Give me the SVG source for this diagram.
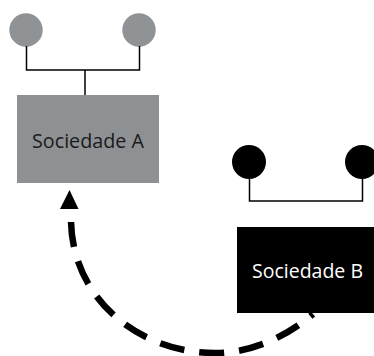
<svg xmlns="http://www.w3.org/2000/svg" width="374" height="356" viewBox="0 0 374 356">
  <style>
    .link { fill: none; stroke: #000; stroke-width: 1.5; }
    .label { font-family: "Open Sans", "Noto Sans", "Liberation Sans", sans-serif; font-size: 20px; text-anchor: middle; }
  </style>
  <rect width="374" height="356" fill="#ffffff"/>

  <!-- owners of Sociedade A -->
  <g id="owner-a1"><circle cx="26" cy="30" r="16.7" fill="#909396"/></g>
  <g id="owner-a2"><circle cx="139" cy="30" r="16.7" fill="#909396"/></g>

  <!-- owners of Sociedade B -->
  <g id="owner-b1"><circle cx="249" cy="162" r="17" fill="#000"/></g>
  <g id="owner-b2"><circle cx="362" cy="162" r="17" fill="#000"/></g>

  <!-- connectors -->
  <g id="connectors">
    <path class="link" d="M26.5,46 V70 H139.5 V46 M85,70 V95"/>
    <path class="link" d="M249.5,178 V201 H362.5 V178"/>
    <path d="M71,222 C73,300 140,353 215,353 C250,353 285,338 313,314" fill="none" stroke="#000" stroke-width="6.5" stroke-dasharray="25 15"/>
    <polygon points="69.5,190 60,209 78.5,209" fill="#000"/>
  </g>

  <g id="sociedade-a">
    <rect x="17" y="95" width="142" height="88" fill="#8e9194"/>
    <text class="label" x="88" y="148" fill="#1a1a1a" textLength="112" lengthAdjust="spacingAndGlyphs">Sociedade A</text>
  </g>

  <g id="sociedade-b">
    <rect x="237" y="227" width="137" height="86" fill="#000"/>
    <text class="label" x="307.5" y="278" fill="#ffffff" textLength="111" lengthAdjust="spacingAndGlyphs">Sociedade B</text>
  </g>
</svg>
